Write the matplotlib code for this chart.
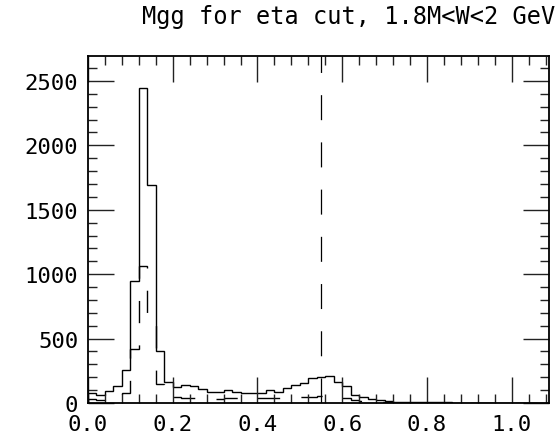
import numpy as np
import matplotlib
matplotlib.use("Agg")
import matplotlib.pyplot as plt
from matplotlib.ticker import MultipleLocator

# two-photon invariant mass, 0.02 wide bins starting at 0
bin_width = 0.02
mgg_all = [75, 62, 91, 134, 256, 950, 2449, 1693, 406, 161,
           122, 140, 130, 109, 88, 85, 103, 83, 75, 75,
           78, 99, 88, 114, 140, 155, 192, 200, 207, 161,
           130, 64, 44, 30, 20, 14, 10, 8, 7, 6,
           5, 4, 4, 3, 3, 3, 2, 2, 2, 2,
           1, 1, 1, 1, 1]
mgg_cut = [30, 22, 28, 45, 75, 419, 1066, 639, 150, 60,
           45, 40, 38, 42, 36, 34, 38, 35, 33, 36,
           38, 36, 40, 42, 45, 48, 50, 52, 48, 42,
           35, 25, 15, 10, 6, 4, 3, 3, 2, 2,
           2, 1, 1, 1, 1, 1, 1, 1, 0, 0,
           0, 0, 0, 0, 0]
eta_mass = 0.55
title = "Mgg for eta cut, 1.8M<W<2 GeV"

plt.rcParams['font.family'] = ['DejaVu Sans Mono', 'DejaVu Sans']
plt.rcParams['lines.scale_dashes'] = False

edges = np.arange(len(mgg_all) + 1) * bin_width

fig = plt.figure(figsize=(5.6, 4.39), dpi=100)
ax = fig.add_axes([88 / 560, 1 - 404 / 439, (549 - 88) / 560, (404 - 57) / 439])

ax.stairs(mgg_all, edges, color='black', linewidth=1.0)
ax.stairs(mgg_cut, edges, color='black', linewidth=1.0, linestyle=(0, (16, 16)))
ax.axvline(eta_mass, color='black', linewidth=0.9, linestyle=(0, (18, 16)))

ax.set_xlim(0, 1.088)
ax.set_ylim(0, 1.1 * max(mgg_all))

ax.xaxis.set_major_locator(MultipleLocator(0.2))
ax.xaxis.set_minor_locator(MultipleLocator(0.04))
ax.yaxis.set_major_locator(MultipleLocator(500))
ax.yaxis.set_minor_locator(MultipleLocator(100))
ax.xaxis.set_major_formatter(lambda v, p: f"{v:.1f}")
ax.yaxis.set_major_formatter(lambda v, p: f"{v:.0f}")

ax.tick_params(which='both', direction='in', top=True, right=True, width=1.0, color='#222222')
ax.tick_params(which='major', length=19)
ax.tick_params(which='minor', length=6.5)
ax.tick_params(axis='x', which='major', labelsize=16, pad=8)
ax.tick_params(axis='y', which='major', labelsize=16, pad=7)
for s in ax.spines.values():
    s.set_linewidth(1.3)

fig.text(0.622, 0.961, title, ha='center', va='center', fontsize=17)

fig.savefig("out.png", dpi=100)
